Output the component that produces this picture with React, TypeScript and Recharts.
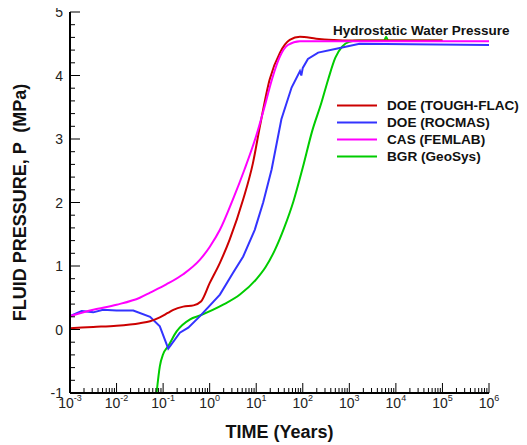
import { LineChart, Line, XAxis, YAxis, Legend, ReferenceDot } from 'recharts';

// [time (years), fluid pressure (MPa)]
const TOUGH_FLAC: [number, number][] = [
  [0.001, 0.02], [0.00316, 0.04], [0.01, 0.06], [0.0316, 0.1], [0.0525, 0.13], [0.085, 0.19],
  [0.126, 0.26], [0.166, 0.31], [0.27, 0.36], [0.45, 0.38], [0.65, 0.44], [1.0, 0.73],
  [1.66, 1.05], [2.7, 1.42], [5.25, 2.05], [8.5, 2.62], [12, 3.2], [19.5, 3.94], [32.4, 4.36],
  [52.5, 4.56], [87, 4.61], [195, 4.58], [447, 4.56], [1000, 4.55], [100000, 4.55],
];
const ROCMAS: [number, number][] = [
  [0.001, 0.21], [0.00178, 0.29], [0.00316, 0.27], [0.00513, 0.31], [0.01, 0.3], [0.0229, 0.3],
  [0.0525, 0.2], [0.085, 0.05], [0.129, -0.3], [0.229, -0.05], [0.347, 0.03], [0.62, 0.21],
  [1.66, 0.55], [3.16, 0.89], [5.25, 1.15], [9.3, 1.57], [14.1, 2.0], [21.4, 2.52], [34.7, 3.31],
  [57.5, 3.81], [87, 4.07], [93, 4.0], [100, 4.12], [129, 4.26], [214, 4.36], [525, 4.42],
  [1660, 4.5], [1000000, 4.48],
];
const FEMLAB: [number, number][] = [
  [0.001, 0.21], [0.00316, 0.31], [0.01, 0.39], [0.0316, 0.5], [0.0525, 0.58], [0.117, 0.71],
  [0.27, 0.87], [0.62, 1.1], [1.0, 1.3], [1.66, 1.57], [3.16, 2.05], [5.6, 2.52], [10, 3.05],
  [15, 3.5], [22, 3.95], [32.4, 4.3], [47.9, 4.48], [87, 4.54], [1000, 4.54], [1000000, 4.54],
];
const GEOSYS: [number, number][] = [
  [0.0724, -1.0], [0.085, -0.58], [0.1, -0.39], [0.129, -0.26], [0.195, -0.03], [0.38, 0.16],
  [0.62, 0.22], [1.95, 0.39], [4.47, 0.55], [10, 0.79], [15.8, 0.98], [25.1, 1.25], [39.8, 1.6],
  [63.1, 2.02], [100, 2.55], [158.5, 3.12], [251, 3.57], [355, 3.95], [501, 4.28], [708, 4.46],
  [1000, 4.53], [1585, 4.55], [5623, 4.55], [6166, 4.61], [6761, 4.55], [100000, 4.55],
];

const SERIES = [
  { name: 'DOE (TOUGH-FLAC)', color: '#cc0000', points: TOUGH_FLAC },
  { name: 'DOE (ROCMAS)', color: '#3333ff', points: ROCMAS },
  { name: 'CAS (FEMLAB)', color: '#ff00ff', points: FEMLAB },
  { name: 'BGR (GeoSys)', color: '#00cc00', points: GEOSYS },
];
// drawing order (last on top)
const DRAW_ORDER = [3, 1, 0, 2];

const X_DECADES = [-3, -2, -1, 0, 1, 2, 3, 4, 5, 6];

const xTicks: number[] = [];
X_DECADES.forEach((d) => {
  xTicks.push(Math.pow(10, d));
  if (d < 6) for (let m = 2; m <= 9; m++) xTicks.push(m * Math.pow(10, d));
});
const yTicks: number[] = [];
for (let i = 0; i <= 30; i++) yTicks.push(Math.round((-1 + i * 0.2) * 10) / 10);

const FONT = '"Liberation Sans", Arial, sans-serif';

const toRows = (pts: [number, number][]) => pts.map(([t, p]) => ({ t, p }));

function XTick({ x, y, payload }: any) {
  const v = payload.value as number;
  const lg = Math.log10(v);
  const major = Math.abs(lg - Math.round(lg)) < 1e-6;
  return (
    <g>
      <line x1={x} x2={x} y1={y} y2={y - (major ? 10 : 5)} stroke="#000" strokeWidth={1} />
      {major && (
        <text x={x} y={y + 15} textAnchor="middle" fontSize={14} fill="#222" fontFamily={FONT}>
          10<tspan dy={-7} fontSize={9}>{Math.round(lg)}</tspan>
        </text>
      )}
    </g>
  );
}

function YTick({ x, y, payload }: any) {
  const v = payload.value as number;
  const major = Number.isInteger(v);
  return (
    <g>
      <line x1={x} x2={x + (major ? 10 : 5)} y1={y} y2={y} stroke="#000" strokeWidth={1} />
      {major && (
        <text x={x - 7} y={y + 5} textAnchor="end" fontSize={14} fill="#222" fontFamily={FONT}>
          {v}
        </text>
      )}
    </g>
  );
}

function YTitle({ viewBox }: any) {
  const cx = viewBox.x + 26;
  const cy = viewBox.y + viewBox.height / 2;
  return (
    <text
      x={cx}
      y={cy}
      transform={`rotate(-90 ${cx} ${cy})`}
      textAnchor="middle"
      fontSize={18}
      fontWeight="bold"
      fontFamily={FONT}
      fill="#111"
      style={{ whiteSpace: 'pre' }}
    >
      FLUID PRESSURE, P  (MPa)
    </text>
  );
}

function XTitle({ viewBox }: any) {
  return (
    <text
      x={viewBox.x + viewBox.width / 2}
      y={viewBox.y + 45}
      textAnchor="middle"
      fontSize={18}
      fontWeight="bold"
      fontFamily={FONT}
      fill="#111"
    >
      TIME (Years)
    </text>
  );
}

function LegendBox() {
  return (
    <div style={{ fontFamily: FONT, fontSize: 13.6, fontWeight: 'bold', color: '#111', whiteSpace: 'nowrap' }}>
      {SERIES.map((s) => (
        <div key={s.name} style={{ display: 'flex', alignItems: 'center', height: 17 }}>
          <svg width={40} height={17} style={{ marginRight: 10, flex: 'none' }}>
            <line x1={0} x2={40} y1={8.5} y2={8.5} stroke={s.color} strokeWidth={2} />
          </svg>
          <span>{s.name}</span>
        </div>
      ))}
    </div>
  );
}

export default function App() {
  return (
    <div style={{ fontFamily: FONT, margin: '-8px 0 0 -8px', width: 527 }}>
      <LineChart width={527} height={445} margin={{ top: 12, right: 38, bottom: 0, left: 0 }}>
        <XAxis
          dataKey="t"
          type="number"
          scale="log"
          domain={[0.001, 1000000]}
          allowDataOverflow
          ticks={xTicks}
          interval={0}
          height={52}
          tickSize={0}
          tickMargin={0}
          tickLine={false}
          axisLine={{ stroke: '#000', strokeWidth: 2 }}
          tick={<XTick />}
          label={{ content: <XTitle /> }}
        />
        <YAxis
          type="number"
          domain={[-1, 5]}
          allowDataOverflow
          ticks={yTicks}
          interval={0}
          width={70}
          tickSize={0}
          tickMargin={0}
          tickLine={false}
          axisLine={{ stroke: '#000', strokeWidth: 2 }}
          tick={<YTick />}
          label={{ content: <YTitle /> }}
        />
        <Legend
          layout="vertical"
          align="center"
          verticalAlign="middle"
          content={<LegendBox />}
          wrapperStyle={{ left: 337, top: 97, width: 190, height: 'auto' }}
        />
        {DRAW_ORDER.map((i) => {
          const s = SERIES[i];
          return (
            <Line
              key={s.name}
              data={toRows(s.points)}
              dataKey="p"
              name={s.name}
              type={i === 1 ? 'linear' : 'monotone'}
              stroke={s.color}
              strokeWidth={2}
              dot={false}
              isAnimationActive={false}
            />
          );
        })}
        <ReferenceDot
          x={35000}
          y={4.55}
          r={0}
          ifOverflow="visible"
          label={{
            value: 'Hydrostatic Water Pressure',
            position: 'top',
            offset: 6,
            fontSize: 13.5,
            fontWeight: 'bold',
            fill: '#111',
            fontFamily: FONT,
          }}
        />
      </LineChart>
    </div>
  );
}
